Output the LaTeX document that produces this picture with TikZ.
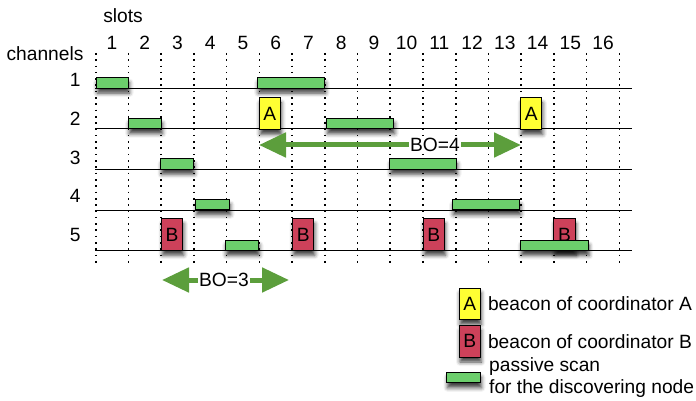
\documentclass[tikz,border=0pt]{standalone}
\usepackage{fontspec}
\setmainfont{Liberation Sans}
\usetikzlibrary{positioning,arrows.meta,shadows.blur}
\definecolor{scangreen}{RGB}{108,206,108}
\definecolor{beaconA}{RGB}{255,255,51}
\definecolor{beaconB}{RGB}{205,65,90}
\definecolor{boarrow}{RGB}{92,158,60}

\begin{document}
\begin{tikzpicture}[x=1pt,y=-1pt,font=\fontsize{19.2}{21.3}\selectfont,
    gridline/.style={line width=1.6pt,dash pattern=on 1.6pt off 4.7pt},
    chanline/.style={line width=1.1pt},
    sh/.style={blur shadow={shadow xshift=1pt,shadow yshift=-5pt,shadow blur radius=4pt,shadow opacity=75}},
    scan/.style={draw,line width=1pt,fill=scangreen,minimum height=10.5pt,inner sep=0pt,anchor=south west,sh},
    beacon/.style={draw,line width=1pt,minimum width=21.3pt,minimum height=31.5pt,inner sep=0pt,anchor=south west,sh},
    bo/.style={boarrow,line width=5pt,{Triangle[length=27pt,width=24pt]}-{Triangle[length=27pt,width=24pt]}},
    bolabel/.style={fill=white,inner sep=1pt}]
    \useasboundingbox (0,0) rectangle (696,401);

    \node (slots) at (123,16) {slots};
    \node (channels) at (45,54) {channels};

    \foreach \i [evaluate=\i as \x using 95.7+32.73*(\i-1)] in {1,...,17}{
        \coordinate (t\i) at (\x,53);
        \coordinate (b\i) at (\x,265);
        \draw[gridline] (t\i) -- (b\i);
    }
    \foreach \i [evaluate=\i as \x using 95.7+32.73*(\i-0.5)] in {1,...,16}
        \node (s\i) at (\x,43) {\i};

    \foreach \c [evaluate=\c as \y using 88.3+40.6*(\c-1),
                 evaluate=\c as \ly using 80+38.7*(\c-1)] in {1,...,5}{
        \node[anchor=east] (c\c) at (84,\ly) {\c};
        \coordinate (l\c) at (95,\y);
        \coordinate (r\c) at (632,\y);
        \draw[chanline] (l\c) -- (r\c);
    }

    \node[beacon,fill=beaconA] (a1) at (258.7,129.9) {A};
    \node[beacon,fill=beaconA] (a2) at (520,129.9) {A};
    \node[beacon,fill=beaconB] (b1) at (161,250.7) {B};
    \node[beacon,fill=beaconB] (b2) at (292,250.7) {B};
    \node[beacon,fill=beaconB] (b3) at (422.7,250.7) {B};
    \node[beacon,fill=beaconB] (b4) at (553.3,250.7) {B};

    \foreach \c/\a/\b [count=\n] in {1/95.7/128,1/256.7/324.3,2/127.7/161,2/326/393.3,
            3/160/193,3/389/456,4/195/229,4/451.7/519.3,5/224.7/258,5/520/587.7}
        \node[scan,minimum width={(\b-\a)*1pt}] (scan\n) at (\a,88.6+40.6*\c-40.6) {};

    \coordinate (bo4l) at (259,145);
    \coordinate (bo4r) at (521,145);
    \draw[bo] (bo4l) -- (bo4r);
    \node[bolabel] (bo4) at (435,145) {BO=4};
    \coordinate (bo3l) at (162,280);
    \coordinate (bo3r) at (289,280);
    \draw[bo] (bo3l) -- (bo3r);
    \node[bolabel] (bo3) at (224,280) {BO=3};

    \node[beacon,fill=beaconA] (legA) at (458.5,320) {A};
    \node[anchor=west,inner sep=0pt] (legAtext) [right=7pt of legA] {beacon of coordinator A};
    \node[beacon,fill=beaconB] (legB) at (458.5,357.5) {B};
    \node[anchor=west,inner sep=0pt] (legBtext) [right=7pt of legB] {beacon of coordinator B};
    \node[scan,minimum width=34pt] (legscan) at (446,383.3) {};
    \node[align=left,inner sep=0pt] (legscantext) [right=8pt of legscan] {passive scan\\for the discovering node};
\end{tikzpicture}
\end{document}
